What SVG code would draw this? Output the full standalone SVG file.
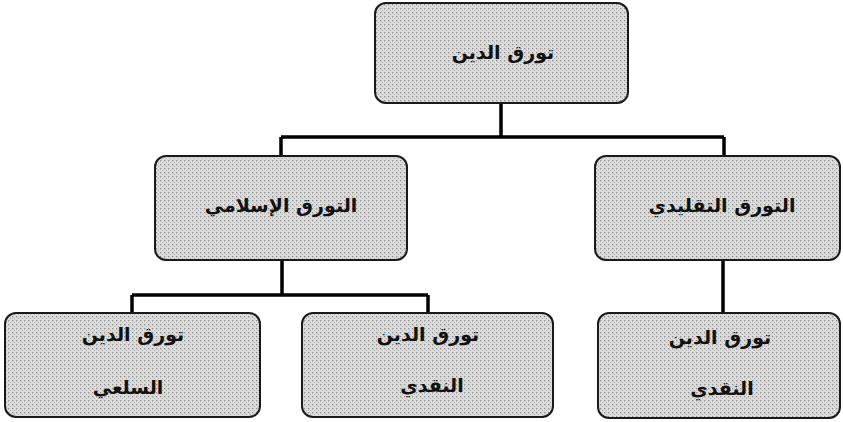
<svg xmlns="http://www.w3.org/2000/svg" width="843" height="422" viewBox="0 0 843 422">
<defs>
<pattern id="dots" width="4" height="4" patternUnits="userSpaceOnUse">
<rect width="4" height="4" fill="#dcdcdc"/>
<rect x="0" y="0" width="1.3" height="1.3" fill="#8f8f8f"/>
<rect x="2" y="2" width="1" height="1" fill="#b0b0b0"/>
</pattern>
</defs>
<style>
.box{fill:url(#dots);stroke:#1a1a1a;stroke-width:2}
.lbl{font-family:"DejaVu Sans",sans-serif;font-size:19px;font-weight:bold;fill:#111;text-anchor:middle;direction:rtl}
.conn{fill:none;stroke:#000;stroke-width:3.5}
</style>
<rect width="843" height="422" fill="#fff"/>
<g id="connectors">
<path class="conn" d="M501 103 V137 M281 137 H724 M281 137 V156 M724 137 V156"/>
<path class="conn" d="M282 260 V295 M132 295 H428 M132 295 V313 M428 295 V313"/>
<path class="conn" d="M723 260 V313"/>
</g>
<g id="n-top">
<rect class="box" x="375" y="3" width="253" height="100" rx="11"/>
<text class="lbl" x="503" y="59">تورق الدين</text>
</g>
<g id="n-islamic">
<rect class="box" x="155" y="156" width="252" height="104" rx="11"/>
<text class="lbl" x="281" y="212">التورق الإسلامي</text>
</g>
<g id="n-traditional">
<rect class="box" x="595" y="156" width="245" height="104" rx="11"/>
<text class="lbl" x="722" y="212">التورق التقليدي</text>
</g>
<g id="n-commodity">
<rect class="box" x="5" y="313" width="255" height="104" rx="11"/>
<text class="lbl" x="133" y="341">تورق الدين</text>
<text class="lbl" x="128" y="394">السلعي</text>
</g>
<g id="n-cash">
<rect class="box" x="302" y="313" width="251" height="104" rx="11"/>
<text class="lbl" x="428" y="341">تورق الدين</text>
<text class="lbl" x="432" y="392">النقدي</text>
</g>
<g id="n-cash2">
<rect class="box" x="598" y="313" width="242" height="105" rx="11"/>
<text class="lbl" x="720" y="344">تورق الدين</text>
<text class="lbl" x="722" y="395">النقدي</text>
</g>
</svg>
